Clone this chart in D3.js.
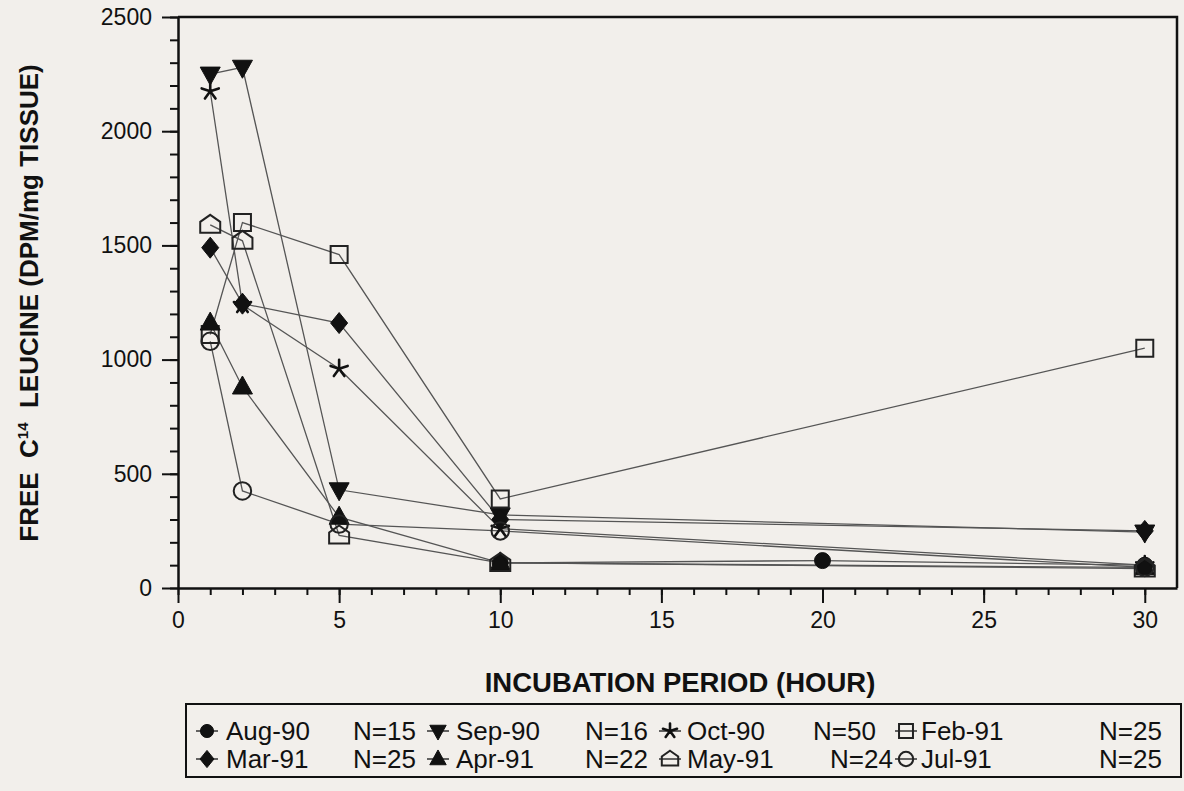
<!DOCTYPE html>
<html><head><meta charset="utf-8">
<script src="https://cdn.jsdelivr.net/npm/d3@7"></script>
<style>
body{margin:0;background:#f2efeb;}
svg{display:block;}
text{font-family:"Liberation Sans",Arial,sans-serif;fill:#111;}
</style></head>
<body><svg id="c" width="1184" height="791"></svg>
<script>
// ---- data (hours, DPM/mg tissue) ----
const aug90 = [[10,110],[20,120],[30,100]];
const sep90 = [[1,2250],[2,2280],[5,430],[10,320],[30,245]];
const oct90 = [[1,2175],[2,1240],[5,960],[10,260],[30,100]];
const feb91 = [[1,1110],[2,1600],[5,1460],[10,390],[30,1050]];
const mar91 = [[1,1490],[2,1245],[5,1160],[10,300],[30,250]];
const apr91 = [[1,1160],[2,880],[5,310],[10,110],[30,90]];
const may91 = [[1,1590],[2,1520],[5,230],[10,110],[30,85]];
const jul91 = [[1,1080],[2,425],[5,280],[10,250],[30,90]];

const seriesNames = ["Aug-90","Sep-90","Oct-90","Feb-91","Mar-91","Apr-91","May-91","Jul-91"];
const seriesN     = ["N=15","N=16","N=50","N=25","N=25","N=22","N=24","N=25"];
const seriesData  = [aug90,sep90,oct90,feb91,mar91,apr91,may91,jul91];
const seriesMark  = ["dot","tridown","star","square","diamond","triup","house","circle"];

const yTicks = [0,500,1000,1500,2000,2500];
const xTicks = [0,5,10,15,20,25,30];

// ---- layout ----
const svg = d3.select("#c");
svg.append("rect").attr("width",1184).attr("height",791).attr("fill","#f2efeb");
const x = d3.scaleLinear().domain([0,31]).range([178,1177]);
const y = d3.scaleLinear().domain([0,2500]).range([588,17]);

function markPath(type,s){
  s = s||1;
  switch(type){
    case "dot": return d3.symbol(d3.symbolCircle, 200*s*s)();
    case "circle": return d3.symbol(d3.symbolCircle, 240*s*s)();
    case "square": return `M${-8.5*s},${-8.5*s}H${8.5*s}V${8.5*s}H${-8.5*s}Z`;
    case "triup": return `M0,${-11*s}L${10*s},${7*s}H${-10*s}Z`;
    case "tridown": return `M0,${11*s}L${10*s},${-7*s}H${-10*s}Z`;
    case "diamond": return `M0,${-10.5*s}L${8.5*s},0L0,${10.5*s}L${-8.5*s},0Z`;
    case "house": return `M0,${-10*s}L${10*s},${-3*s}V${8*s}H${-10*s}V${-3*s}Z`;
    case "star": {
      let p="";
      for(let i=0;i<5;i++){const a=(-90+72*i)*Math.PI/180;p+=`M0,0L${(9*s*Math.cos(a)).toFixed(2)},${(9*s*Math.sin(a)).toFixed(2)}`;}
      return p;
    }
  }
}
function drawMark(g,type,cx,cy,s){
  const filled = ["dot","triup","tridown","diamond"].includes(type);
  const p = g.append("path").attr("d",markPath(type,s)).attr("transform",`translate(${cx},${cy})`);
  if(type==="star") p.attr("fill","none").attr("stroke","#111").attr("stroke-width",2.6).attr("stroke-linecap","round");
  else if(filled) p.attr("fill","#111").attr("stroke","#111").attr("stroke-width",1);
  else p.attr("fill","none").attr("stroke","#222").attr("stroke-width",2);
}

// ---- series lines ----
const line = d3.line().x(d=>x(d[0])).y(d=>y(d[1]));
const plot = svg.append("g");
seriesData.forEach(s=>{
  plot.append("path").datum(s).attr("d",line).attr("fill","none")
    .attr("stroke","#555").attr("stroke-width",1.3);
});
seriesData.forEach((s,i)=>{
  s.forEach(d=>drawMark(plot,seriesMark[i],x(d[0]),y(d[1]),1));
});

// ---- axes ----
const fmt = d3.format("d");
const axG = svg.append("g");
axG.append("g").attr("transform",`translate(${x(0)},0)`)
  .call(d3.axisLeft(y).tickValues(d3.range(0,2501,100)).tickSize(8).tickFormat(""))
  .call(g=>g.select(".domain").remove())
  .call(g=>g.selectAll("line").attr("stroke","#111").attr("stroke-width",2));
axG.append("g").attr("transform",`translate(${x(0)},0)`)
  .call(d3.axisLeft(y).tickValues(yTicks).tickFormat(fmt).tickSize(16).tickPadding(10).tickSizeOuter(0))
  .call(g=>g.select(".domain").attr("stroke","#111").attr("stroke-width",2.5))
  .call(g=>g.selectAll("line").attr("stroke","#111").attr("stroke-width",2))
  .call(g=>g.selectAll("text").attr("font-size",23).attr("font-family","Liberation Sans, Arial, sans-serif").attr("fill","#111"));
axG.append("g").attr("transform",`translate(0,${y(0)})`)
  .call(d3.axisBottom(x).tickValues(d3.range(0,31,1)).tickSize(7).tickFormat(""))
  .call(g=>g.select(".domain").remove())
  .call(g=>g.selectAll("line").attr("stroke","#111").attr("stroke-width",2));
axG.append("g").attr("transform",`translate(0,${y(0)})`)
  .call(d3.axisBottom(x).tickValues(xTicks).tickFormat(fmt).tickSize(15).tickPadding(9).tickSizeOuter(0))
  .call(g=>g.select(".domain").attr("stroke","#111").attr("stroke-width",2.5))
  .call(g=>g.selectAll("line").attr("stroke","#111").attr("stroke-width",2))
  .call(g=>g.selectAll("text").attr("font-size",23).attr("font-family","Liberation Sans, Arial, sans-serif").attr("fill","#111"));
svg.append("path").attr("d",`M${x(0)},${y(2500)}H${x(31)}V${y(0)}`)
  .attr("fill","none").attr("stroke","#111").attr("stroke-width",2.5);

// ---- titles ----
const yt = svg.append("text").attr("transform","translate(38,303) rotate(-90)")
  .attr("text-anchor","middle").attr("font-weight","bold").attr("font-size",26)
  .attr("xml:space","preserve").style("white-space","pre");
yt.append("tspan").text("FREE  C");
yt.append("tspan").attr("font-size",15).attr("dy",-10).text("14");
yt.append("tspan").attr("dy",10).text("  LEUCINE (DPM/mg TISSUE)");

svg.append("text").attr("x",680).attr("y",692).attr("text-anchor","middle")
  .attr("font-weight","bold").attr("font-size",27.5).text("INCUBATION PERIOD (HOUR)");

// ---- legend ----
const leg = svg.append("g");
leg.append("rect").attr("x",186).attr("y",704).attr("width",995).attr("height",73)
  .attr("fill","none").attr("stroke","#111").attr("stroke-width",2);
const colX = [207,438,670,906];
const nameOff = [19,18,17,15];
const nOff = [146,147,143,193];
const rowY = [731,759];
seriesNames.forEach((nm,i)=>{
  const r = Math.floor(i/4), c = i%4;
  const cx = colX[c], cy = rowY[r];
  leg.append("line").attr("x1",cx-11).attr("x2",cx+11).attr("y1",cy).attr("y2",cy)
    .attr("stroke","#333").attr("stroke-width",1.5);
  drawMark(leg,seriesMark[i],cx,cy,0.82);
  leg.append("text").attr("x",cx+nameOff[c]).attr("y",cy).attr("dy","0.36em")
    .attr("font-size",26).text(nm);
  leg.append("text").attr("x",cx+(i===6?160:nOff[c])).attr("y",cy).attr("dy","0.36em")
    .attr("font-size",26).text(seriesN[i]);
});
</script></body></html>
